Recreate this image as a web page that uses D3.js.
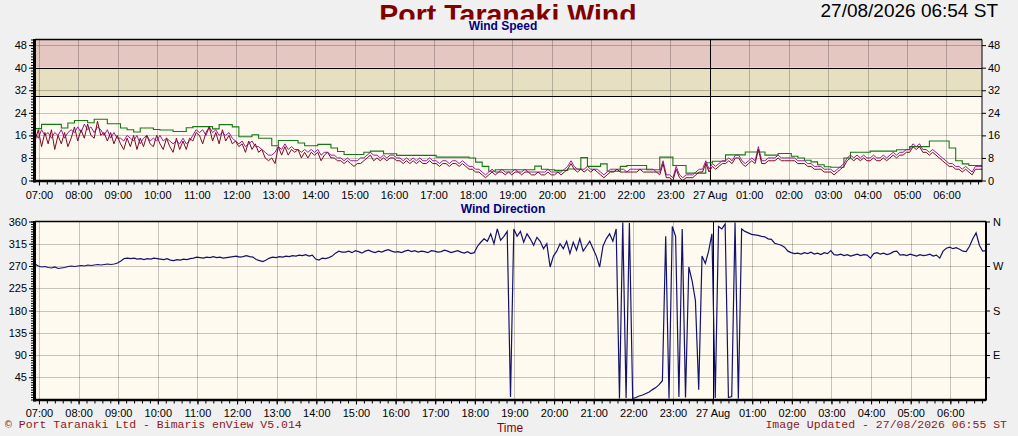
<!DOCTYPE html>
<html>
<head>
<meta charset="utf-8">
<script src="https://cdn.jsdelivr.net/npm/d3@7"></script>
<style>
    body { margin: 0; background: #f0f0f0; }
    svg { display: block; font-family: "Liberation Sans", Arial, sans-serif; }
</style>
</head>
<body>
<svg id="chart" width="1018" height="436"></svg>
<script>
// Texts
const titleText = "Port Taranaki Wind";
const stampText = "27/08/2026 06:54 ST";
const footerLeft = "\u00a9 Port Taranaki Ltd - Bimaris enView V5.014";
const footerRight = "Image Updated - 27/08/2026 06:55 ST";

// Window shown: 24 hours ending at the time stamp
const windowStart = new Date(2026, 7, 26, 6, 54);
const windowEnd = new Date(2026, 7, 27, 6, 54);

// Wind speed, knots (lull / average every 5 min, gust every 10 min)
const speedLull = [
    14,18,12,17,13,18,11,16,13,17,12,
    15,19,14,18,15,20,16,15,21,16,
    17,14,17,13,16,
    13,11,15,12,16,11,15,12,16,13,
    12,16,13,11,15,
    12,10,15,11,14,11,15,
    14,17,16,13,17,19,14,17,13,18,14,16,
    13,14,
    12,13,10,14,11,13,
    10,11,8,
    7,8,6,
    12,9,12,9,11,10,
    11,8,10,8,10,9,10,7,9,10,8,
    8,7,7,6,7,6,5,6,6,7,
    8,9,7,8,7,8,7,8,8,7,
    7,6,7,6,7,6,7,6,6,7,
    6,6,5,6,6,5,6,6,5,6,
    5,4,4,3,3,2,1,
    2,3,2,3,3,2,3,2,3,3,2,3,3,2,
    2,3,2,2,3,2,2,3,2,3,
    4,6,4,
    3,4,3,4,3,4,3,
    2,1,2,
    3,3,4,3,3,3,3,
    3,3,4,3,3,3,3,3,2,
    6,
    1,1,
    0,4,1,0,1,1,1,
    2,3,3,6,
    3,5,4,5,6,6,
    7,6,8,8,6,
    5,6,7,6,11,
    6,6,7,7,
    7,8,7,7,7,7,7,
    6,6,6,5,5,4,4,4,3,3,
    3,2,3,4,
    5,7,8,7,
    8,7,8,7,7,8,7,7,8,7,8,9,
    8,9,9,10,10,12,
    11,12,10,10,
    9,10,9,8,
    7,6,5,5,4,4,
    3,4,3,2,
    4,4,4
];

const speedAvg = [
    17,15,18,16,17,15,17,16,18,15,17,
    18,17,19,17,20,18,19,17,19,18,
    16,18,15,17,15,
    15,14,16,15,14,16,13,15,16,14,
    15,14,16,14,15,
    14,13,14,13,15,13,14,
    16,18,17,18,16,19,17,18,16,17,16,17,
    15,14,
    13,14,12,13,14,12,
    12,11,10,
    9,9,10,
    12,11,13,11,12,11,
    11,10,11,10,11,10,11,9,10,10,9,
    9,8,8,7,8,7,7,7,8,8,
    9,10,9,9,8,9,8,9,9,8,
    8,7,8,7,8,7,8,7,7,8,
    7,7,6,7,7,6,7,7,6,7,
    6,5,5,4,4,3,2,
    3,4,3,3,4,3,3,3,4,3,3,4,3,3,
    3,3,3,3,4,3,3,3,3,4,
    5,7,5,
    4,4,4,5,4,4,4,
    3,2,3,
    4,4,4,4,4,3,4,
    4,4,4,4,4,4,4,3,3,
    7,
    2,2,
    1,5,2,1,2,2,2,
    3,4,4,7,
    4,6,5,6,7,7,
    8,7,9,9,7,
    6,7,8,7,12,
    7,7,8,8,
    8,9,8,8,8,8,8,
    7,7,7,6,6,5,5,5,4,4,
    4,3,4,5,
    6,8,9,8,
    9,8,9,8,8,9,8,8,9,8,9,10,
    9,10,10,11,11,13,
    12,13,11,11,
    10,11,10,9,
    8,7,6,6,5,5,
    4,5,4,3,
    5,5,5
];

const speedGust = [
    18.4,19.9,19.9,19.9,18.6,20.4,21.3,21.3,20.5,21.7,
    21.7,20.1,20.1,18.6,18,17.2,18.6,18.6,18.1,17.9,
    17.9,17.4,17.4,18.7,19.1,19.1,19.1,18.3,19.8,19.8,
    19,15.5,15.5,16.2,15,15,12.3,14.2,14.2,14.2,
    13.3,12.3,12.3,12.8,12.8,11.5,10.3,9.2,9.2,9.2,
    10,10.4,10.4,9.5,9.5,8.9,8.9,8.9,8.9,8.9,
    8.9,8.3,8.3,8.3,8.3,8.3,8,6.5,5,3.3,
    3.8,3.8,3.8,3.8,3.8,3.8,5.1,4,3.8,3.6,
    3.6,4.1,4.1,8.1,5,5,5.9,3.3,3.3,5,
    5.3,5.3,5.3,3.8,3.8,8.3,8.3,5.3,5.3,2.6,
    2.6,2.6,6.3,6.8,6.8,9.1,9.1,9.1,10.1,10.1,
    10.1,9,9,9.6,9.6,8.6,8,7.2,6.6,5.6,
    4.9,4.7,4.7,8,10,10,10,10.4,10.4,10.4,
    10.4,10.9,10.9,12,12,12,14,14,14,11.5,
    7,5.9,5.3,5.3,5.1
];

// Wind direction, degrees, every 5 min
const direction = [
    274,270,268,269,267,266,268,265,266,267,269,
    270,269,270,271,270,272,271,272,273,272,273,274,273,274,276,
    280,285,286,
    285,286,284,285,283,285,284,286,285,284,283,285,
    282,281,283,282,284,283,285,
    286,288,287,286,288,287,289,287,288,286,287,288,289,
    290,288,289,291,289,288,
    283,281,279,282,
    286,288,287,289,288,290,289,291,290,292,
    291,293,290,292,
    284,282,
    286,285,287,290,
    296,300,298,
    298,300,297,301,299,296,300,302,299,297,
    300,298,301,303,300,298,299,297,300,302,
    299,301,298,300,299,297,301,300,298,299,
    302,300,297,299,301,298,296,299,295,297,
    310,318,325,320,335,315,345,322,330,340,
    5,
    345,330,340,318,335,325,312,328,320,305,315,
    268,
    290,
    300,315,305,320,295,318,302,325,300,310,320,305,
    290,268,310,
    325,335,320,345,
    2,358,3,357,2,
    4,7,9,12,15,20,24,30,38,
    330,2,350,330,5,345,4,268,240,200,20,290,275,300,335,3,350,345,355,4,6,358,2,
    345,340,337,334,333,332,330,329,325,324,316,314,312,308,300,297,295,
    296,294,297,295,298,294,296,293,297,295,
    301,
    293,292,294,291,293,290,292,294,291,293,292,
    286,
    295,297,294,296,293,295,
    299,300,
    292,293,291,294,292,290,293,291,292,294,290,292,
    286,300,
    306,308,305,307,304,
    300,299,
    310,325,337,312,300,301
];

// Axis values
const speedTicks = [0, 8, 16, 24, 32, 40, 48];
const alarmLevels = [30, 40, 50];
const directionTicks = [45, 90, 135, 180, 225, 270, 315, 360];
const compassValues = [90, 180, 270, 360];
const compassLabels = ["E", "S", "W", "N"];

const svg = d3.select("#chart");

// Scales
const xSpeed = d3.scaleTime().domain([windowStart, windowEnd]).range([35, 982]);
const ySpeed = d3.scaleLinear().domain([0, 50]).range([180.5, 39.5]);
const xDir = d3.scaleTime().domain([windowStart, windowEnd]).range([35, 986]);
const yDir = d3.scaleLinear().domain([0, 360]).range([399.5, 221.5]);

const hourTicks = d3.timeHour.range(windowStart, windowEnd);
const minorTimeTicks = d3.timeMinute.every(12).range(windowStart, windowEnd);
const hourFormat = d => d.getHours() === 0 ? d3.timeFormat("%d %b")(d) : d3.timeFormat("%H:%M")(d);

// spread a series evenly over the 24 hour window
function toPoints(values) {
    const step = (windowEnd - windowStart) / (values.length - 1);
    return values.map((v, i) => ({ t: new Date(+windowStart + i * step), v }));
}

// Title, clipped by the chart strip below it
svg.append("clipPath").attr("id", "titleClip")
    .append("rect").attr("x", 0).attr("y", 0).attr("width", 1018).attr("height", 19.5);
svg.append("text")
    .attr("x", 508).attr("y", 23.5)
    .attr("text-anchor", "middle")
    .attr("clip-path", "url(#titleClip)")
    .attr("fill", "#800000")
    .style("font-size", "28.5px").style("font-weight", "bold")
    .text(titleText);

svg.append("text")
    .attr("x", 998).attr("y", 16.5)
    .attr("text-anchor", "end")
    .attr("fill", "#000")
    .style("font-size", "19px")
    .text(stampText);

// Plot area with clip and background
function plotArea(id, x, y, gridValues) {
    const [left, right] = x.range();
    const [bottom, top] = y.range();
    const g = svg.append("g");
    g.append("clipPath").attr("id", id)
        .append("rect").attr("x", left).attr("y", top).attr("width", right - left).attr("height", bottom - top);
    g.append("rect")
        .attr("x", left).attr("y", top).attr("width", right - left).attr("height", bottom - top)
        .attr("fill", "#fffaf0");
    return { g, left, right, top, bottom, x, y, gridValues };
}

function drawGrid(p) {
    p.g.append("g").selectAll("line")
        .data(p.gridValues)
        .join("line")
        .attr("x1", p.left).attr("x2", p.right)
        .attr("y1", d => Math.round(p.y(d)) + 0.5).attr("y2", d => Math.round(p.y(d)) + 0.5)
        .attr("stroke", "#000").attr("stroke-opacity", 0.22);
    p.g.append("g").selectAll("line")
        .data(hourTicks)
        .join("line")
        .attr("x1", d => Math.round(p.x(d)) + 0.5).attr("x2", d => Math.round(p.x(d)) + 0.5)
        .attr("y1", p.top).attr("y2", p.bottom)
        .attr("stroke", "#000").attr("stroke-opacity", 0.22);
}

function drawMidnight(p) {
    const midnight = hourTicks.filter(d => d.getHours() === 0);
    p.g.append("g").selectAll("line")
        .data(midnight)
        .join("line")
        .attr("x1", d => Math.round(p.x(d)) + 0.5).attr("x2", d => Math.round(p.x(d)) + 0.5)
        .attr("y1", p.top).attr("y2", p.bottom)
        .attr("stroke", "#000").attr("stroke-width", 1);
}

function drawFrame(p, rightWidth) {
    // thin top/right edges, heavy left/bottom axes
    p.g.append("line").attr("x1", p.left).attr("x2", p.right).attr("y1", p.top).attr("y2", p.top)
        .attr("stroke", "#000").attr("stroke-width", 1.5);
    p.g.append("line").attr("x1", p.right).attr("x2", p.right).attr("y1", p.top).attr("y2", p.bottom + 1)
        .attr("stroke", "#000").attr("stroke-width", rightWidth);
    p.g.append("line").attr("x1", p.left - 0.5).attr("x2", p.left - 0.5).attr("y1", p.top - 0.5).attr("y2", p.bottom + 2)
        .attr("stroke", "#000").attr("stroke-width", 3);
    p.g.append("line").attr("x1", p.left - 2).attr("x2", p.right).attr("y1", p.bottom + 0.5).attr("y2", p.bottom + 0.5)
        .attr("stroke", "#000").attr("stroke-width", 2.5);
}

function styleAxis(g) {
    g.select(".domain").remove();
    g.attr("font-family", "\"Liberation Sans\", Arial, sans-serif").attr("font-size", 11);
    g.selectAll("text").attr("fill", "#000");
}

function drawTimeAxis(p, padding) {
    svg.append("g")
        .attr("transform", `translate(0,${p.bottom + 1})`)
        .call(d3.axisBottom(p.x).tickValues(minorTimeTicks).tickSize(3).tickFormat(""))
        .call(styleAxis);
    svg.append("g")
        .attr("transform", `translate(0,${p.bottom + 1})`)
        .call(d3.axisBottom(p.x).tickValues(hourTicks).tickSize(4).tickPadding(padding).tickFormat(hourFormat))
        .call(styleAxis);
}

// ---------- Wind speed panel ----------
const sp = plotArea("clipSpeed", xSpeed, ySpeed, speedTicks.filter(d => d > 0));

sp.g.append("rect")
    .attr("x", sp.left).attr("width", sp.right - sp.left)
    .attr("y", ySpeed(alarmLevels[2])).attr("height", ySpeed(alarmLevels[1]) - ySpeed(alarmLevels[2]))
    .attr("fill", "#e5c7c1");
sp.g.append("rect")
    .attr("x", sp.left).attr("width", sp.right - sp.left)
    .attr("y", ySpeed(alarmLevels[1])).attr("height", ySpeed(alarmLevels[0]) - ySpeed(alarmLevels[1]))
    .attr("fill", "#e6e0c1");

drawGrid(sp);

sp.g.append("g").selectAll("line")
    .data(alarmLevels.slice(0, 2))
    .join("line")
    .attr("x1", sp.left).attr("x2", sp.right)
    .attr("y1", d => Math.round(ySpeed(d)) + 0.5).attr("y2", d => Math.round(ySpeed(d)) + 0.5)
    .attr("stroke", "#000").attr("stroke-width", 1.2);

drawMidnight(sp);

const speedLine = d3.line().x(d => xSpeed(d.t)).y(d => ySpeed(d.v));
const series = sp.g.append("g").attr("clip-path", "url(#clipSpeed)");
series.append("path")
    .datum(toPoints(speedGust))
    .attr("fill", "none").attr("stroke", "#137a13").attr("stroke-width", 1.1)
    .attr("d", d3.line().curve(d3.curveStepAfter).x(d => xSpeed(d.t)).y(d => ySpeed(d.v)));
series.append("path")
    .datum(toPoints(speedAvg))
    .attr("fill", "none").attr("stroke", "#9a1a9a").attr("stroke-width", 1)
    .attr("d", speedLine);
series.append("path")
    .datum(toPoints(speedLull))
    .attr("fill", "none").attr("stroke", "#7a0a22").attr("stroke-width", 1)
    .attr("d", speedLine);

drawFrame(sp, 1);

svg.append("g")
    .attr("transform", `translate(${sp.left},0)`)
    .call(d3.axisLeft(ySpeed).tickValues(d3.range(0, 51, 1)).tickSize(4).tickFormat(""))
    .call(styleAxis);
svg.append("g")
    .attr("transform", `translate(${sp.left},0)`)
    .call(d3.axisLeft(ySpeed).tickValues(speedTicks).tickSize(6).tickPadding(2))
    .call(styleAxis);
svg.append("g")
    .attr("transform", `translate(${sp.right},0)`)
    .call(d3.axisRight(ySpeed).tickValues(speedTicks).tickSize(4).tickPadding(2))
    .call(styleAxis);
drawTimeAxis(sp, 6);

svg.append("text")
    .attr("x", 503).attr("y", 30)
    .attr("text-anchor", "middle")
    .attr("fill", "#000080")
    .style("font-size", "12px").style("font-weight", "bold")
    .text("Wind Speed");

// ---------- Wind direction panel ----------
const dp = plotArea("clipDir", xDir, yDir, directionTicks.filter(d => d < 360));
drawGrid(dp);
drawMidnight(dp);

dp.g.append("g").attr("clip-path", "url(#clipDir)")
    .append("path")
    .datum(toPoints(direction))
    .attr("fill", "none").attr("stroke", "#12126e").attr("stroke-width", 1.2)
    .attr("d", d3.line().x(d => xDir(d.t)).y(d => yDir(d.v)));

drawFrame(dp, 2);

svg.append("g")
    .attr("transform", `translate(${dp.left},0)`)
    .call(d3.axisLeft(yDir).tickValues(d3.range(0, 361, 5)).tickSize(4).tickFormat(""))
    .call(styleAxis);
svg.append("g")
    .attr("transform", `translate(${dp.left},0)`)
    .call(d3.axisLeft(yDir).tickValues(directionTicks).tickSize(6).tickPadding(2))
    .call(styleAxis);
svg.append("g")
    .attr("transform", `translate(${dp.right},0)`)
    .call(d3.axisRight(yDir).tickValues(directionTicks).tickSize(4).tickPadding(3)
        .tickFormat(d => compassValues.includes(d) ? compassLabels[compassValues.indexOf(d)] : ""))
    .call(styleAxis);
drawTimeAxis(dp, 5);

svg.append("text")
    .attr("x", 503).attr("y", 212.5)
    .attr("text-anchor", "middle")
    .attr("fill", "#000080")
    .style("font-size", "12px").style("font-weight", "bold")
    .text("Wind Direction");

// ---------- Footer ----------
svg.append("text")
    .attr("x", 510).attr("y", 432)
    .attr("text-anchor", "middle")
    .attr("fill", "#8b0000")
    .style("font-size", "12px")
    .text("Time");

svg.append("text")
    .attr("x", 5).attr("y", 428)
    .attr("fill", "#8b1a1a")
    .style("font-family", "\"Liberation Mono\", \"Courier New\", monospace")
    .style("font-size", "11.5px")
    .text(footerLeft);

svg.append("text")
    .attr("x", 1007).attr("y", 428)
    .attr("text-anchor", "end")
    .attr("fill", "#8b1a1a")
    .style("font-family", "\"Liberation Mono\", \"Courier New\", monospace")
    .style("font-size", "11.5px")
    .text(footerRight);
</script>
</body>
</html>
